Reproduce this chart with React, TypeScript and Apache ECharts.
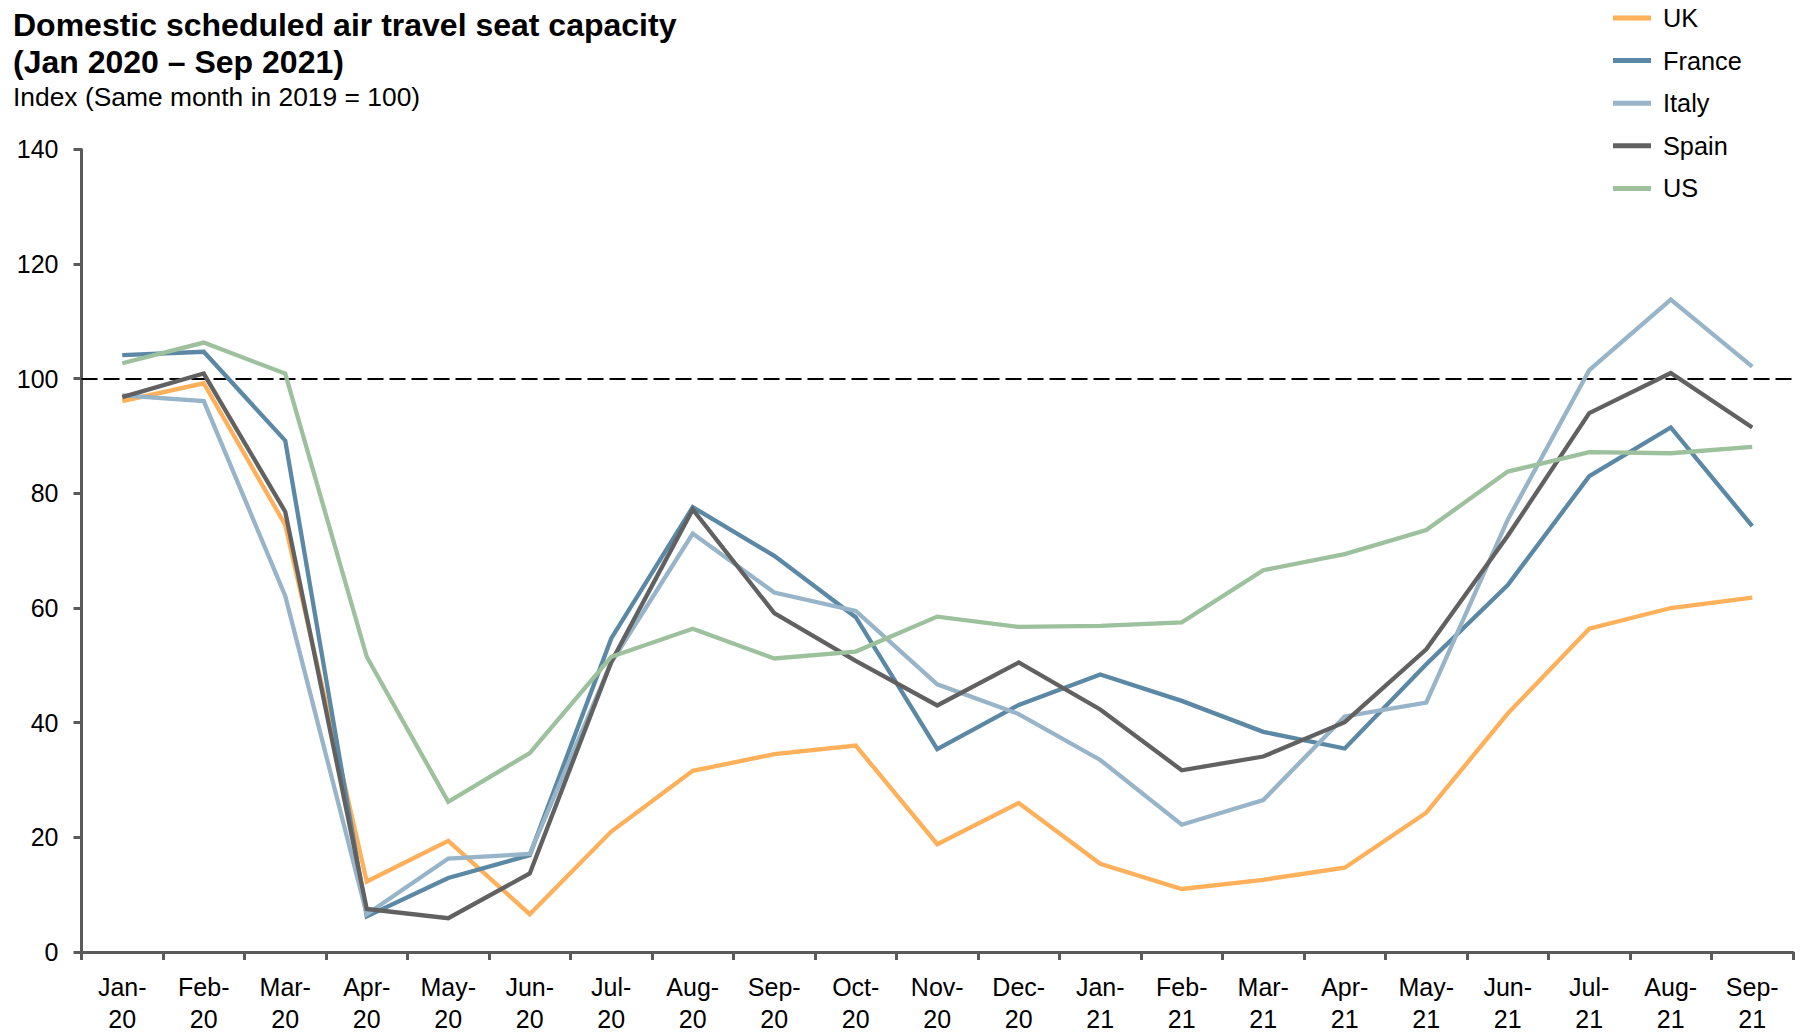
import React, { useEffect, useRef } from "react";
import * as echarts from "echarts";

const categories = [
  "Jan-\n20", "Feb-\n20", "Mar-\n20", "Apr-\n20", "May-\n20", "Jun-\n20", "Jul-\n20",
  "Aug-\n20", "Sep-\n20", "Oct-\n20", "Nov-\n20", "Dec-\n20", "Jan-\n21", "Feb-\n21",
  "Mar-\n21", "Apr-\n21", "May-\n21", "Jun-\n21", "Jul-\n21", "Aug-\n21", "Sep-\n21",
];

const ukValues = [96.1, 99.2, 74.5, 12.3, 19.4, 6.6, 21.0, 31.6, 34.5, 36.0, 18.8, 26.0, 15.4, 11.0, 12.6, 14.7, 24.3, 41.6, 56.4, 60.0, 61.8];
const franceValues = [104.1, 104.7, 89.2, 6.2, 12.9, 16.9, 54.7, 77.6, 69.1, 58.4, 35.4, 43.1, 48.4, 43.8, 38.4, 35.5, 50.2, 64.0, 83.0, 91.5, 74.3];
const italyValues = [97.1, 96.1, 62.1, 6.6, 16.3, 17.1, 50.5, 73.0, 62.7, 59.5, 46.7, 41.5, 33.5, 22.2, 26.5, 41.1, 43.5, 75.4, 101.5, 113.8, 102.1];
const spainValues = [96.8, 100.9, 76.8, 7.5, 5.9, 13.7, 50.6, 77.2, 59.1, 50.8, 43.0, 50.5, 42.3, 31.7, 34.1, 40.1, 52.8, 72.6, 94.0, 101.0, 91.5];
const usValues = [102.7, 106.3, 100.9, 51.5, 26.2, 34.7, 51.5, 56.4, 51.2, 52.4, 58.5, 56.7, 56.9, 57.5, 66.6, 69.4, 73.6, 83.8, 87.2, 87.0, 88.1];

const seriesNames = ["UK", "France", "Italy", "Spain", "US"];
const seriesColors = ["#FFB05A", "#5B88A5", "#97B4C9", "#616161", "#9CC19C"];
const seriesValues = [ukValues, franceValues, italyValues, spainValues, usValues];

const referenceValue = 100;
const yTicks = { min: 0, max: 140, interval: 20 };

const FONT = '"Liberation Sans", Arial, Helvetica, sans-serif';

export default function App() {
  const ref = useRef<HTMLDivElement>(null);

  useEffect(() => {
    if (!ref.current) return;
    const chart = echarts.init(ref.current, null, { renderer: "svg" });
    const axisColor = "#5A5A5A";

    const series: any[] = seriesNames.map((name, i) => ({
      name,
      type: "line",
      data: seriesValues[i],
      symbol: "none",
      smooth: false,
      lineStyle: { color: seriesColors[i], width: 4.3, join: "miter" },
      itemStyle: { color: seriesColors[i] },
      z: 3,
    }));
    series[0].markLine = {
      silent: true,
      symbol: "none",
      label: { show: false },
      lineStyle: { color: "#000000", width: 2, type: [16, 6] },
      data: [{ yAxis: referenceValue }],
      z: 2,
    };

    chart.setOption({
      animation: false,
      backgroundColor: "#ffffff",
      textStyle: { fontFamily: FONT },
      title: {
        text: "Domestic scheduled air travel seat capacity\n(Jan 2020 – Sep 2021)",
        subtext: "Index (Same month in 2019 = 100)",
        left: 13,
        top: 6,
        padding: 0,
        itemGap: 3,
        textStyle: {
          fontFamily: FONT,
          fontSize: 32,
          fontWeight: "bold",
          color: "#000000",
          lineHeight: 37,
        },
        subtextStyle: {
          fontFamily: FONT,
          fontSize: 26.4,
          color: "#000000",
          lineHeight: 28,
        },
      },
      legend: {
        orient: "vertical",
        left: 1613,
        top: 3,
        padding: 0,
        itemWidth: 38,
        itemHeight: 5,
        itemGap: 12.6,
        icon: "rect",
        data: seriesNames,
        textStyle: {
          fontFamily: FONT,
          fontSize: 25.3,
          color: "#000000",
          lineHeight: 30,
          padding: [0, 0, 0, 7],
        },
      },
      grid: {
        left: 81.5,
        right: 7,
        top: 149.4,
        bottom: 83,
        containLabel: false,
      },
      xAxis: {
        type: "category",
        data: categories,
        boundaryGap: true,
        axisLine: { show: true, lineStyle: { color: axisColor, width: 3 } },
        axisTick: {
          show: true,
          alignWithLabel: false,
          length: 8,
          lineStyle: { color: axisColor, width: 3 },
        },
        axisLabel: {
          interval: 0,
          margin: 19,
          color: "#000000",
          fontFamily: FONT,
          fontSize: 25,
          lineHeight: 32,
        },
        splitLine: { show: false },
      },
      yAxis: {
        type: "value",
        min: yTicks.min,
        max: yTicks.max,
        interval: yTicks.interval,
        axisLine: { show: true, lineStyle: { color: axisColor, width: 3 } },
        axisTick: {
          show: true,
          length: 8,
          lineStyle: { color: axisColor, width: 3 },
        },
        axisLabel: {
          margin: 23,
          color: "#000000",
          fontFamily: FONT,
          fontSize: 25,
        },
        splitLine: { show: false },
      },
      series,
    });

    return () => chart.dispose();
  }, []);

  return (
    <div
      ref={ref}
      style={{ position: "fixed", left: 0, top: 0, width: 1800, height: 1035, background: "#fff" }}
    />
  );
}
